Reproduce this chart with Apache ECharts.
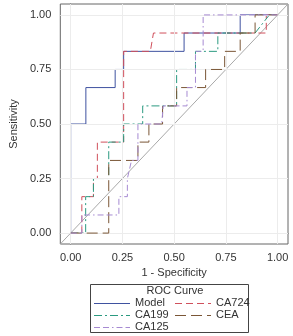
<!DOCTYPE html>
<html>
<head>
<meta charset="utf-8">
<script src="https://cdn.jsdelivr.net/npm/echarts@6/dist/echarts.min.js"></script>
<style>
  html, body { margin: 0; padding: 0; background: #fff; }
  #chart { width: 293px; height: 336px; }
</style>
</head>
<body>
<div id="chart"></div>
<script>
// tick values shown on both axes
const tickValues = [0, 0.25, 0.5, 0.75, 1];
const axisMin = -0.05;
const axisMax = 1.05;

// ROC curve vertices (1 - specificity, sensitivity)
const modelX = [0, 0, 0.0735, 0.0735, 0.215, 0.215, 0.256, 0.256, 0.548, 0.548, 0.819, 0.819, 1];
const modelY = [0, 0.5, 0.5, 0.667, 0.667, 0.75, 0.75, 0.833, 0.833, 0.917, 0.917, 1, 1];

const ca724X = [0, 0.054, 0.054, 0.11, 0.11, 0.129, 0.129, 0.256, 0.256, 0.385, 0.4, 0.945, 0.945, 1];
const ca724Y = [0, 0, 0.167, 0.167, 0.25, 0.25, 0.417, 0.417, 0.833, 0.833, 0.917, 0.917, 1, 1];

const ca199X = [0, 0.0725, 0.0725, 0.11, 0.11, 0.184, 0.184, 0.256, 0.256, 0.348, 0.348, 0.512, 0.512, 0.603, 0.603, 0.711, 0.711, 0.891, 0.96, 1];
const ca199Y = [0, 0, 0.167, 0.167, 0.25, 0.25, 0.417, 0.417, 0.5, 0.5, 0.583, 0.583, 0.75, 0.75, 0.833, 0.833, 0.917, 0.917, 1, 1];

const ceaX = [0, 0.184, 0.184, 0.325, 0.325, 0.378, 0.378, 0.444, 0.444, 0.512, 0.512, 0.652, 0.652, 0.744, 0.744, 0.819, 0.819, 0.891, 0.891, 1];
const ceaY = [0, 0, 0.333, 0.333, 0.417, 0.417, 0.5, 0.5, 0.583, 0.583, 0.667, 0.667, 0.75, 0.75, 0.833, 0.833, 0.917, 0.917, 1, 1];

const ca125X = [0, 0.054, 0.054, 0.233, 0.233, 0.274, 0.274, 0.294, 0.325, 0.325, 0.44, 0.447, 0.562, 0.562, 0.603, 0.603, 0.64, 0.64, 1];
const ca125Y = [0, 0, 0.083, 0.083, 0.167, 0.167, 0.25, 0.333, 0.333, 0.5, 0.5, 0.583, 0.583, 0.667, 0.667, 0.833, 0.833, 1, 1];

// chance line from corner to corner of the plot
const refX = [axisMin, axisMax];
const refY = [axisMin, axisMax];

const zip = (xs, ys) => xs.map((x, i) => [x, ys[i]]);
const font = "'Liberation Sans', Arial, sans-serif";

const curves = [
  { name: "Model", x: modelX, y: modelY, color: "#3f52a0", type: "solid" },
  { name: "CA724", x: ca724X, y: ca724Y, color: "#d0505c", type: [7, 4] },
  { name: "CA199", x: ca199X, y: ca199Y, color: "#2b9a80", type: [8, 3, 2, 3] },
  { name: "CEA", x: ceaX, y: ceaY, color: "#7a5636", type: [11, 5] },
  { name: "CA125", x: ca125X, y: ca125Y, color: "#a68ad2", type: [6, 3, 6, 3, 1.5, 3] },
];

// legend cell (sample left edge, row centre) for each curve, same order as curves
const legendPos = [
  { left: 94, y: 303 },
  { left: 175, y: 303 },
  { left: 94, y: 315 },
  { left: 175, y: 315 },
  { left: 94, y: 327 },
];

const baseLabel = {
  customValues: tickValues,
  color: "#333",
  fontSize: 11,
  fontFamily: font,
  formatter: (v) => v.toFixed(2),
};

const valueAxis = (extra) => Object.assign({
  type: "value",
  min: axisMin,
  max: axisMax,
  axisLine: { show: true, lineStyle: { color: "#666", width: 1 } },
  axisTick: { show: true, length: 5, customValues: tickValues, lineStyle: { color: "#666" } },
  splitLine: { show: false },
  nameLocation: "middle",
  nameTextStyle: { color: "#333", fontSize: 11, fontFamily: font },
}, extra);

const chart = echarts.init(document.getElementById("chart"), null, { renderer: "canvas" });

const series = [
  {
    name: "ref",
    type: "line",
    data: zip(refX, refY),
    symbol: "none",
    silent: true,
    lineStyle: { color: "#a8a8a8", width: 1 },
    markLine: {
      silent: true,
      symbol: "none",
      label: { show: false },
      lineStyle: { color: "#ececec", width: 1, type: "solid" },
      data: tickValues.map((v) => ({ xAxis: v })).concat(tickValues.map((v) => ({ yAxis: v }))),
    },
    z: 1,
  },
].concat(curves.map((c, i) => ({
  name: c.name,
  type: "line",
  data: zip(c.x, c.y),
  symbol: "none",
  lineStyle: { color: c.color, width: 1, type: c.type },
  itemStyle: { color: c.color },
  z: 2 + i,
})));

// legend drawn by hand so the samples keep colour and dash pattern
const legendGraphics = [
  {
    type: "rect",
    shape: { x: 90.5, y: 284.5, width: 158, height: 48 },
    style: { fill: "none", stroke: "#444", lineWidth: 1 },
  },
  {
    type: "text",
    x: 175,
    y: 291,
    style: {
      text: "ROC Curve", fill: "#333", font: "11px " + font,
      textAlign: "center", textVerticalAlign: "middle",
    },
  },
];
curves.forEach((c, i) => {
  const p = legendPos[i];
  legendGraphics.push({
    type: "line",
    shape: { x1: p.left, y1: p.y + 0.5, x2: p.left + 36, y2: p.y + 0.5 },
    style: { stroke: c.color, lineWidth: 1, lineDash: c.type === "solid" ? null : c.type },
  });
  legendGraphics.push({
    type: "text",
    x: p.left + 41,
    y: p.y,
    style: {
      text: c.name, fill: "#333", font: "11px " + font,
      textAlign: "left", textVerticalAlign: "middle",
    },
  });
});

chart.setOption({
  animation: false,
  backgroundColor: "#fff",
  grid: {
    left: 48, top: 4, right: 5, bottom: 92,
    show: true, borderColor: "#666", borderWidth: 1, backgroundColor: "transparent",
  },
  xAxis: valueAxis({ name: "1 - Specificity", nameGap: 22, axisLabel: Object.assign({}, baseLabel, { margin: 8 }) }),
  yAxis: valueAxis({ name: "Sensitivity", nameGap: 31, axisLabel: Object.assign({}, baseLabel, { margin: 9 }) }),
  graphic: legendGraphics,
  series: series,
});
</script>
</body>
</html>
